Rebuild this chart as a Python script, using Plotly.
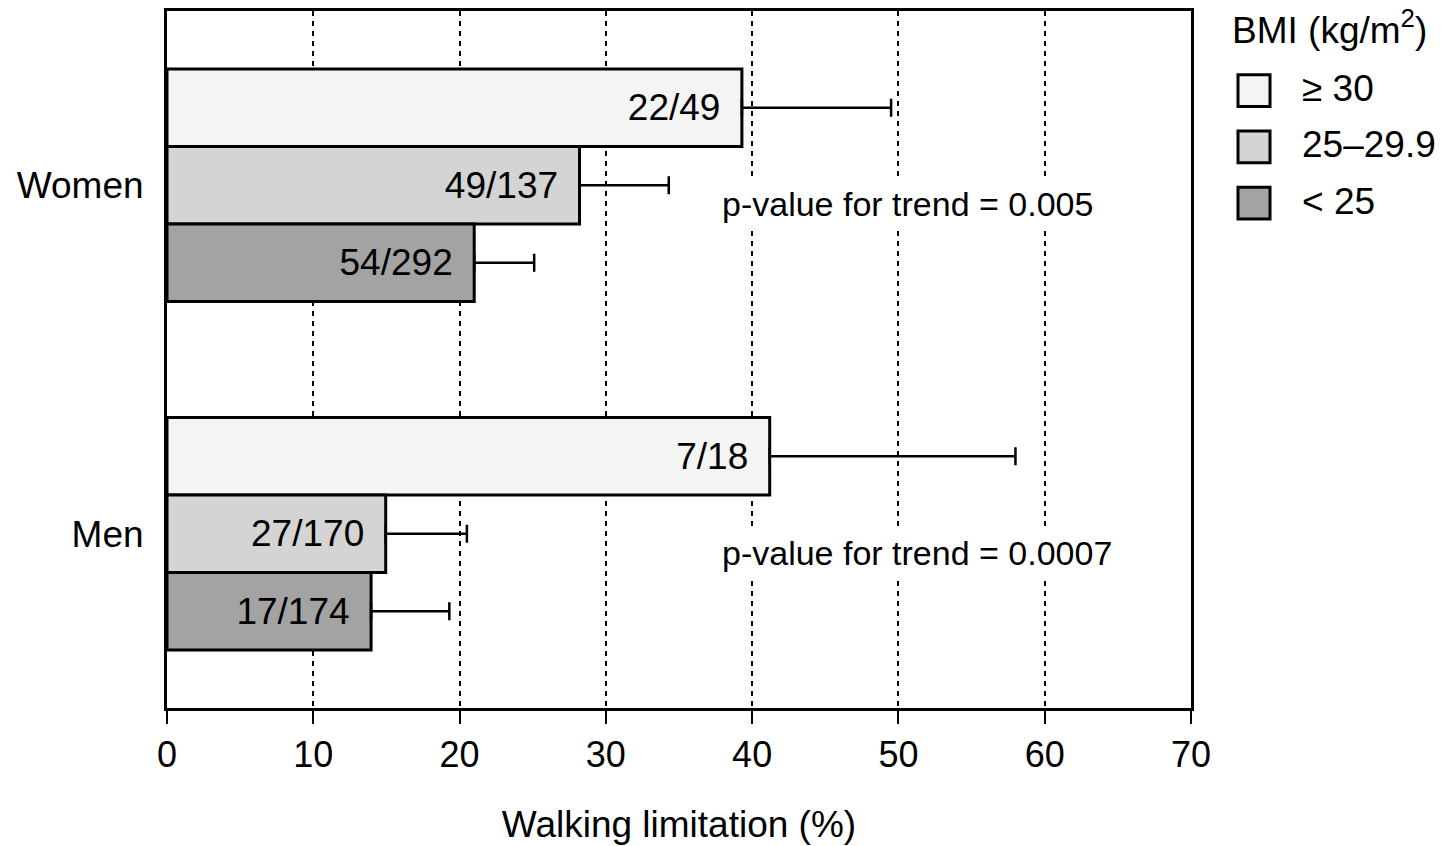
import plotly.graph_objects as go

# ---- data ----
groups = ["Women", "Men"]
bmi_classes = ["≥ 30", "25–29.9", "< 25"]
values = {
    "≥ 30": [39.3, 41.2],
    "25–29.9": [28.2, 14.95],
    "< 25": [21.0, 13.95],
}
upper_ci = {
    "≥ 30": [49.5, 58.0],
    "25–29.9": [34.3, 20.5],
    "< 25": [25.1, 19.3],
}
counts = {
    "≥ 30": ["22/49", "7/18"],
    "25–29.9": ["49/137", "27/170"],
    "< 25": ["54/292", "17/174"],
}
p_values = ["p-value for trend = 0.005", "p-value for trend = 0.0007"]
x_ticks = [0, 10, 20, 30, 40, 50, 60, 70]

colors = {"≥ 30": "#f4f4f4", "25–29.9": "#d4d4d4", "< 25": "#a3a3a3"}
FONT = "Liberation Sans, Arial, sans-serif"

W, H = 1442, 846
ML, MR, MT, MB = 167, 251, 8, 138
PW, PH = W - ML - MR, H - MT - MB

fig = go.Figure()
for cls in bmi_classes:
    vals = values[cls]
    plus = [u - v for u, v in zip(upper_ci[cls], vals)]
    fig.add_trace(go.Bar(
        y=groups, x=vals, orientation="h", name=cls,
        marker=dict(color=colors[cls], line=dict(color="black", width=3)),
        text=counts[cls], texttemplate="%{text}\u2002",
        textposition="inside", insidetextanchor="end",
        textfont=dict(family=FONT, size=37, color="black"),
        constraintext="none",
        error_x=dict(type="data", symmetric=False, array=plus,
                     arrayminus=[0] * len(vals), color="black",
                     thickness=2.5, width=9),
        showlegend=False,
    ))

for g, p in zip(groups, p_values):
    fig.add_annotation(x=37.6, y=g, xref="x", yref="y", text=p,
                       xanchor="left", yanchor="middle", yshift=-19,
                       showarrow=False, bgcolor="white", borderpad=4,
                       font=dict(family=FONT, size=34, color="black"))

# ---- manual legend (pixel helpers -> paper) ----
def px_x(px):
    return (px - ML) / PW

def px_y(py):
    return (MT + PH - py) / PH

fig.add_annotation(x=px_x(1230), y=px_y(25), xref="paper", yref="paper",
                   text="BMI (kg/m<sup>2</sup>)", xanchor="left",
                   yanchor="middle", showarrow=False,
                   font=dict(family=FONT, size=37, color="black"))
for i, cls in enumerate(bmi_classes):
    cy = 88 + i * 56.5
    fig.add_shape(type="rect", xref="paper", yref="paper",
                  x0=px_x(1238), x1=px_x(1270),
                  y0=px_y(cy + 16), y1=px_y(cy - 16),
                  fillcolor=colors[cls], line=dict(color="black", width=3))
    fig.add_annotation(x=px_x(1300), y=px_y(cy - 2), xref="paper", yref="paper",
                       text=cls, xanchor="left", yanchor="middle",
                       showarrow=False,
                       font=dict(family=FONT, size=37, color="black"))

fig.update_layout(
    width=W, height=H,
    margin=dict(l=ML, r=MR, t=MT, b=MB, pad=0),
    paper_bgcolor="white", plot_bgcolor="white",
    barmode="group", bargap=1/3, bargroupgap=0,
    font=dict(family=FONT, size=37, color="black"),
    xaxis=dict(
        range=[0, 70], tickvals=x_ticks, ticks="outside", ticklen=13,
        tickwidth=2, tickcolor="black",
        showline=True, linewidth=3, linecolor="black", mirror=True,
        showgrid=True, gridcolor="black", gridwidth=2, griddash="5px,5px",
        zeroline=False,
        tickfont=dict(family=FONT, size=36, color="black"),
        title=dict(text="Walking limitation (%)", standoff=37,
                   font=dict(family=FONT, size=37, color="black")),
    ),
    yaxis=dict(
        type="category", categoryarray=groups, range=[1.5, -0.5],
        showline=True, linewidth=3, linecolor="black", mirror=True,
        showgrid=False, zeroline=False, ticks="",
        ticklabelstandoff=13,
        tickfont=dict(family=FONT, size=37, color="black"),
    ),
)

fig.write_html("out.html")
